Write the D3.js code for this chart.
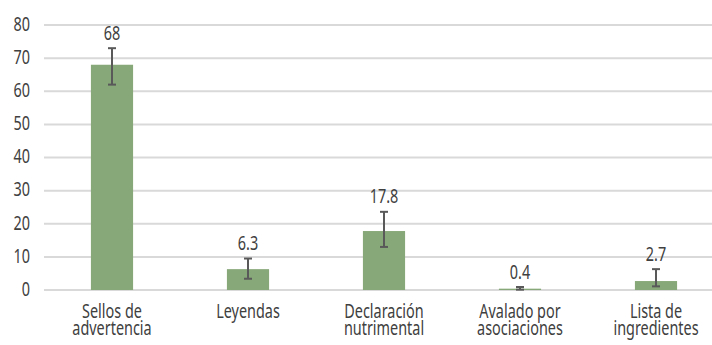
<!DOCTYPE html>
<html>
<head>
<meta charset="utf-8">
<script src="https://cdn.jsdelivr.net/npm/d3@7"></script>
<style>
  html, body { margin: 0; padding: 0; background: #fff; }
  svg { display: block; }
  text { font-family: "Noto Sans", "Open Sans", sans-serif; fill: #404040; }
</style>
</head>
<body>
<svg id="chart" width="712" height="345"></svg>
<script>
// Categories (each split into its display lines)
const categories = [
  ["Sellos de", "advertencia"],
  ["Leyendas"],
  ["Declaración", "nutrimental"],
  ["Avalado por", "asociaciones"],
  ["Lista de", "ingredientes"]
];
// Percentages
const values = [68, 6.3, 17.8, 0.4, 2.7];
// Error bar limits
const errLow  = [62, 3.4, 13.0, 0.1, 1.1];
const errHigh = [73, 9.5, 23.6, 0.9, 6.3];
// Y axis ticks
const yTicks = [0, 10, 20, 30, 40, 50, 60, 70, 80];

const fontSize = 19.5;
const narrow = "scale(0.74,1)"; // condensed lettering

const svg = d3.select("#chart");
const plotLeft = 44, plotRight = 724, plotTop = 25, plotBottom = 290;

const x = d3.scaleBand()
  .domain(d3.range(values.length))
  .range([plotLeft, plotRight])
  .paddingInner(0.69)
  .paddingOuter(0.345);

const y = d3.scaleLinear().domain([0, 80]).range([plotBottom, plotTop]);

// Gridlines
svg.append("g")
  .selectAll("line")
  .data(yTicks)
  .join("line")
  .attr("x1", plotLeft).attr("x2", 712)
  .attr("y1", d => y(d)).attr("y2", d => y(d))
  .attr("stroke", "#d9d9d9")
  .attr("stroke-width", 2);

// Y axis labels
const yAxis = d3.axisLeft(y).tickValues(yTicks).tickSize(0).tickPadding(0);
const gy = svg.append("g").attr("transform", "translate(30,-1)").call(yAxis);
gy.select(".domain").remove();
gy.selectAll("text")
  .attr("font-size", fontSize)
  .style("font-family", "'Noto Sans', 'Open Sans', sans-serif")
  .attr("fill", "#404040")
  .attr("transform", narrow);

// Bars
svg.append("g")
  .selectAll("rect")
  .data(values)
  .join("rect")
  .attr("x", (d, i) => x(i))
  .attr("width", x.bandwidth())
  .attr("y", d => y(d))
  .attr("height", d => y(0) - y(d))
  .attr("fill", "#87a878");

// Error bars
const eg = svg.append("g").attr("stroke", "#595959").attr("stroke-width", 2);
values.forEach((v, i) => {
  const cx = x(i) + x.bandwidth() / 2;
  eg.append("line").attr("x1", cx).attr("x2", cx).attr("y1", y(errHigh[i])).attr("y2", y(errLow[i]));
  eg.append("line").attr("x1", cx - 4).attr("x2", cx + 4).attr("y1", y(errHigh[i])).attr("y2", y(errHigh[i]));
  eg.append("line").attr("x1", cx - 4).attr("x2", cx + 4).attr("y1", y(errLow[i])).attr("y2", y(errLow[i]));
});

// Value labels
svg.append("g")
  .selectAll("g")
  .data(values)
  .join("g")
  .attr("transform", (d, i) => `translate(${x(i) + x.bandwidth() / 2},${y(errHigh[i]) - 8.5})`)
  .append("text")
  .attr("transform", narrow)
  .attr("text-anchor", "middle")
  .attr("font-size", fontSize)
  .text(d => d);

// Category labels
const cg = svg.append("g");
categories.forEach((lines, i) => {
  const t = cg.append("g")
    .attr("transform", `translate(${x(i) + x.bandwidth() / 2},318)`)
    .append("text")
    .attr("transform", narrow)
    .attr("text-anchor", "middle")
    .attr("font-size", fontSize);
  lines.forEach((l, j) => {
    t.append("tspan").attr("x", 0).attr("dy", j === 0 ? 0 : 17).text(l);
  });
});
</script>
</body>
</html>
